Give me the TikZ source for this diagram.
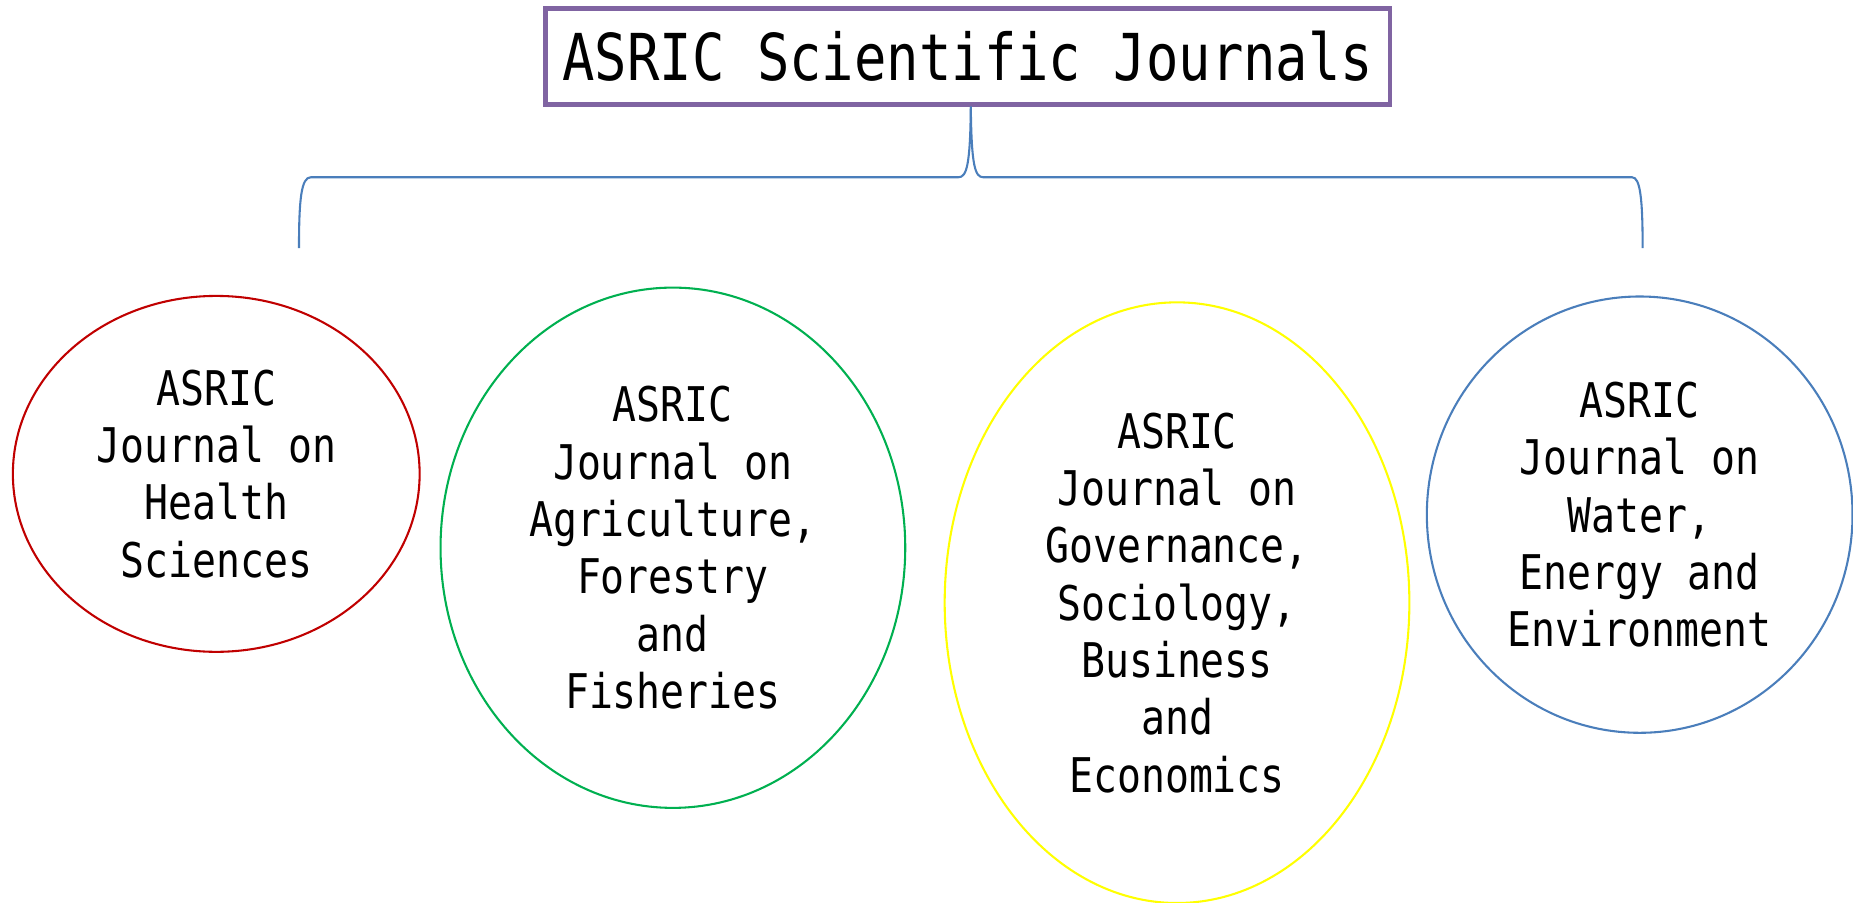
\documentclass[tikz,border=0pt]{standalone}
\usepackage{fontspec}
\usetikzlibrary{shapes.geometric}
\newfontfamily\gothic[FakeStretch=0.833]{DejaVu Sans Mono}
\definecolor{jpurple}{HTML}{8064A2}
\definecolor{jblue}{HTML}{4A7EBB}
\definecolor{jred}{HTML}{C00000}
\definecolor{jgreen}{HTML}{00B050}
\definecolor{jyellow}{HTML}{FFFF00}
\begin{document}
\begin{tikzpicture}[x=0.01cm,y=-0.01cm,
  titlebox/.style={draw=jpurple,line width=1.2pt,inner sep=0pt,
    font=\gothic\fontsize{15.56pt}{18pt}\selectfont},
  jell/.style={ellipse,line width=0.5pt,inner sep=0pt,align=center,
    font=\gothic\fontsize{11.5pt}{13.8pt}\selectfont},
  brace/.style={draw=jblue,line width=0.5pt}]
\useasboundingbox (0,0) rectangle (1568,764);
\node[titlebox,minimum width=7.14cm,minimum height=0.81cm] (title) at (819,47.5) {ASRIC Scientific Journals};
\coordinate (lt) at (253,210);
\coordinate (rt) at (1390,210);
\draw[brace] (lt) .. controls (253,168) and (255,150) .. (263,150) -- (811,150)
  .. controls (818,150) and (821,140) .. ([xshift=0.025cm]title.south);
\draw[brace] (rt) .. controls (1390,168) and (1388,150) .. (1381,150) -- (832,150)
  .. controls (825,150) and (822,140) .. ([xshift=0.025cm]title.south);
\node[jell,draw=jred,minimum width=3.44cm,minimum height=3.01cm] (health) at (183,401)
  {ASRIC\\Journal on\\Health\\Sciences};
\node[jell,draw=jgreen,minimum width=3.93cm,minimum height=4.40cm] (agri) at (569.4,463.5)
  {ASRIC\\Journal on\\Agriculture,\\Forestry\\and\\Fisheries};
\node[jell,draw=jyellow,minimum width=3.93cm,minimum height=5.08cm] (gov) at (996,510)
  {ASRIC\\Journal on\\Governance,\\Sociology,\\Business\\and\\Economics};
\node[jell,draw=jblue,minimum width=3.60cm,minimum height=3.69cm] (water) at (1387.5,435.5)
  {ASRIC\\Journal on\\Water,\\Energy and\\Environment};
\end{tikzpicture}
\end{document}
